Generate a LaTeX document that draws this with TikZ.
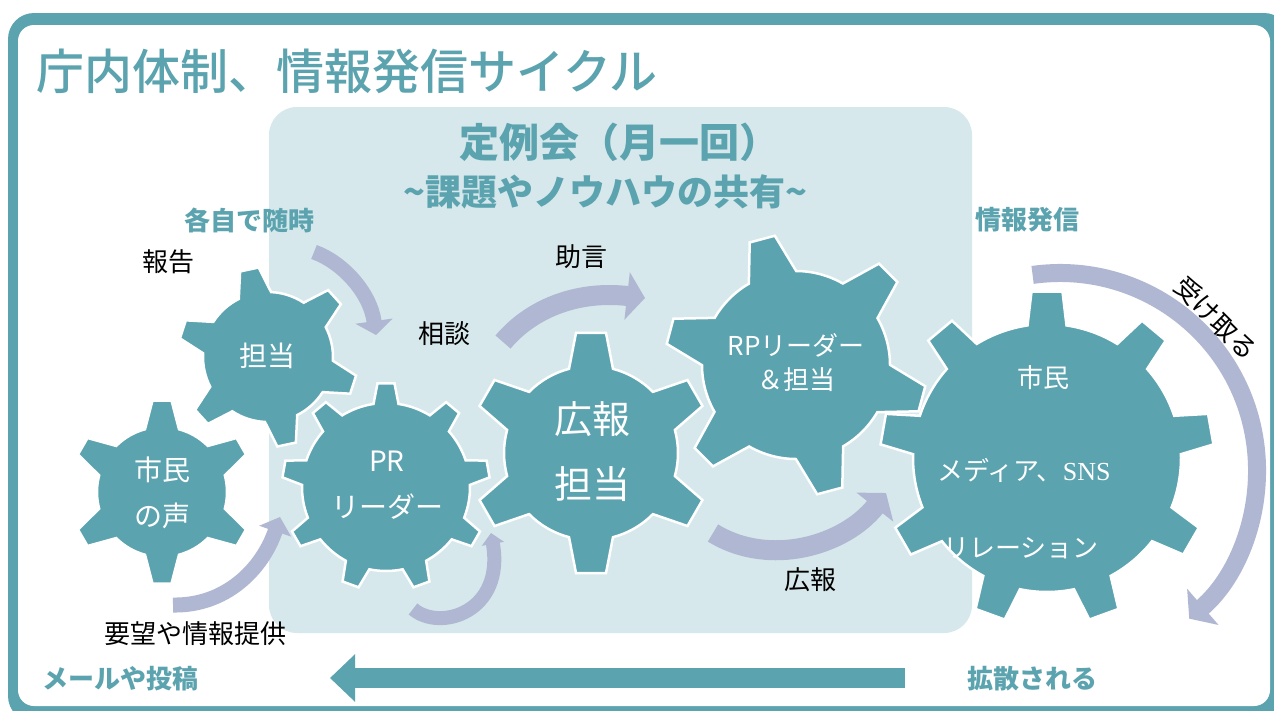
\documentclass[tikz,border=0pt]{standalone}
\usepackage{fontspec}
\newfontfamily\jp{Noto Sans CJK JP}
\newfontfamily\jpm{Noto Sans CJK JP}[UprightFont=* Medium]
\newfontfamily\lserif{Liberation Serif}
\usetikzlibrary{arrows.meta}
\definecolor{tealc}{HTML}{5BA3AF}
\definecolor{paleb}{HTML}{D6E8EB}
\definecolor{lav}{HTML}{B0B7D3}

\tikzset{
  cogstyle/.style={fill=tealc, draw=white, line width=2.5pt, line join=miter},
  ttl/.style={text=tealc, inner sep=0pt, font=\jpm\fontsize{#1}{#1}\selectfont},
  hd/.style={text=tealc, inner sep=0pt, font=\jp\bfseries\fontsize{#1}{#1}\selectfont},
  lbl/.style={inner sep=0pt, font=\jp\fontsize{26}{30}\selectfont},
  tlbl/.style={text=tealc, inner sep=0pt, font=\jp\bfseries\fontsize{26}{30}\selectfont},
  wlbl/.style={text=white, inner sep=0pt, align=center, font=\jp\fontsize{#1}{46}\selectfont},
  flow/.style args={#1/#2/#3}{draw=lav, line width=#1, line cap=butt,
    -{Triangle[length=#2, width=#3]}},
}

% cog: #1 centre, #2 teeth, #3 body radius, #4 tooth height,
%      #5 angle of first tooth, #6 half width at root, #7 half width at tip
\newcommand\cog[7]{%
  \pgfmathsetmacro\cogstep{360/#2}%
  \pgfmathsetmacro\cogba{asin(#6/#3)}%
  \pgfmathsetmacro\cogro{#3+#4}%
  \pgfmathsetmacro\cogta{asin(#7/\cogro)}%
  \pgfmathtruncatemacro\coglast{#2-1}%
  \begin{scope}[shift={#1}]
    \path[cogstyle] ({-#5-\cogba}:#3)
      \foreach \k [evaluate=\k as \a using -#5+\k*\cogstep,
                   evaluate=\k as \s using -#5+\k*\cogstep+\cogba,
                   evaluate=\k as \e using -#5+(\k+1)*\cogstep-\cogba]
        in {0,...,\coglast} {
        -- ({\a-\cogta}:\cogro) -- ({\a+\cogta}:\cogro) -- (\s:#3)
        arc[start angle=\s, end angle=\e, radius=#3]
      } -- cycle;
  \end{scope}}

\begin{document}
\begin{tikzpicture}[x=1pt,y=-1pt]
\useasboundingbox (0,0) rectangle (1274,710);

% frame and meeting panel
\fill[tealc, rounded corners=26pt] (8,13) rectangle (1290,722);
\fill[white, rounded corners=16pt] (18,25) rectangle (1270,706);
\fill[paleb, rounded corners=28pt] (269,107) rectangle (972,633);

% gears
\cog{(162,492)}{6}{65}{27}{90}{17}{9.5}
\cog{(268,357)}{6}{65}{25}{102}{16.5}{9.5}
\cog{(386,487)}{9}{84}{20}{90}{12.5}{8.5}
\cog{(591,453)}{6}{87}{34}{90}{22}{15}
\cog{(796,365)}{6}{94}{37}{105}{24.5}{13}
\cog{(1047,458)}{9}{134}{33}{90}{19.5}{15.5}

% flow arrows
\coordinate (a1) at (314,252); \coordinate (a2) at (376,335);
\coordinate (b1) at (503,342); \coordinate (b2) at (645,298);
\coordinate (c1) at (713,533); \coordinate (c2) at (886,493);
\coordinate (d1) at (173,605); \coordinate (d2) at (280,517);
\coordinate (e1) at (413,609); \coordinate (e2) at (491,533);
\coordinate (fc) at (1060,470);
\coordinate (g1) at (905,678); \coordinate (g2) at (330,678);

\draw[flow=15pt/14pt/37pt] (a1) .. controls (342,262) and (370,292) .. (a2);
\draw[flow=20pt/18pt/47pt] (b1) .. controls (530,310) and (575,290) .. (b2);
\draw[flow=20pt/18pt/46pt] (c1) .. controls (770,568) and (845,545) .. (c2);
\draw[flow=15pt/15pt/33pt] (d1) .. controls (225,606) and (262,570) .. (d2);
\draw[flow=14pt/11pt/22pt] (e1) .. controls (440,632) and (505,612) .. (e2);
\draw[flow=18pt/18pt/47pt] (fc) ++(-98:197) arc[start angle=-98, end angle=49, radius=197];
\draw[tealc, line width=20pt, -{Triangle[length=25pt, width=46pt]}] (g1) -- (g2);

% headings
\node[ttl=48, anchor=west] (title) at (36,71) {庁内体制、情報発信サイクル};
\node[hd=40] (meet) at (619,142) {定例会（月一回）};
\node[hd=36] (share) at (605,192) {\textasciitilde 課題やノウハウの共有\textasciitilde};

% teal labels
\node[tlbl] (zuiji) at (249,220) {各自で随時};
\node[tlbl] (hasshin) at (1027,220) {情報発信};
\node[tlbl] (mail) at (120,679) {メールや投稿};
\node[tlbl] (kakusan) at (1032,679) {拡散される};

% black labels
\node[lbl] (hokoku) at (168,262) {報告};
\node[lbl] (sodan) at (444,334) {相談};
\node[lbl] (jogen) at (581,257) {助言};
\node[lbl] (koho) at (810,580) {広報};
\node[lbl] (yobo) at (195,634) {要望や情報提供};
\node[lbl, rotate=-45] (uketoru) at (1216,318) {受け取る};

% gear texts
\node[wlbl=28] (koe) at (162,493) {市民\\の声};
\node[wlbl=28] (tanto) at (267,356) {担当};
\node[wlbl=28] (pr) at (387,485) {PR\\リーダー};
\node[wlbl=38, font=\jp\fontsize{38}{65}\selectfont] (kohotanto) at (592,452) {広報\\担当};
\node[wlbl=26, font=\jp\fontsize{26}{34}\selectfont] (rp) at (796,363) {RPリーダー\\＆担当};
\node[wlbl=26] (shimin) at (1043,378) {市民};
\node[wlbl=26] (media) at (1024,470) {メディア、{\lserif SNS}};
\node[wlbl=26] (relation) at (1021,548) {リレーション};
\end{tikzpicture}
\end{document}
